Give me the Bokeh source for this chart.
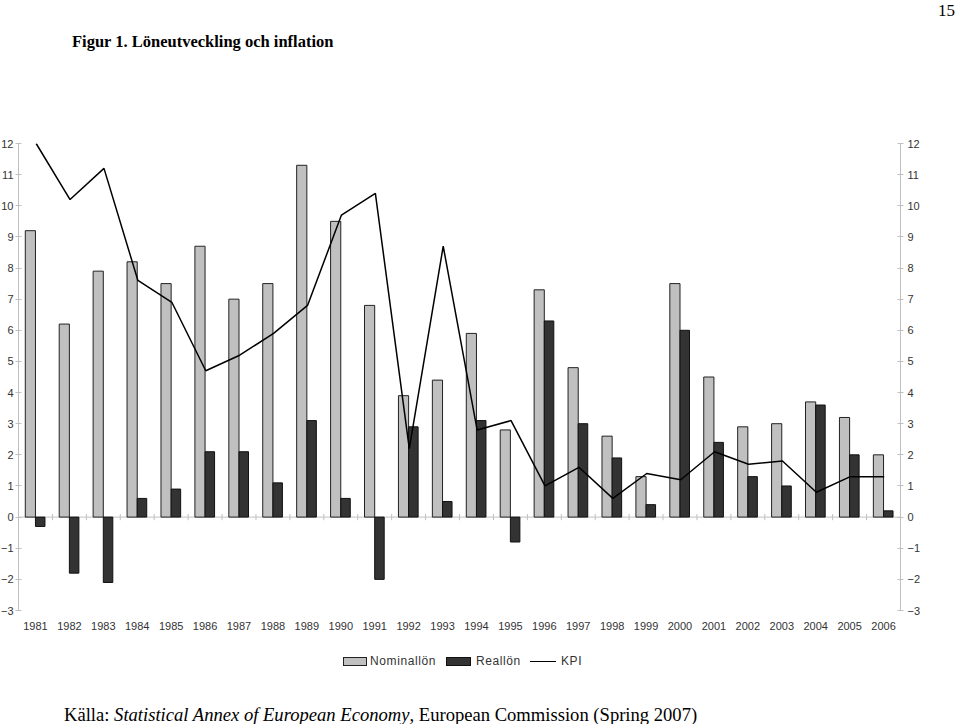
from bokeh.plotting import figure
from bokeh.models import (Range1d, FixedTicker, LinearAxis, Span, Div,
                          ColumnDataSource)
from bokeh.layouts import column
from bokeh.embed import file_html
from bokeh.resources import INLINE
import numpy as np

# ---------------- data ----------------
years = [str(y) for y in range(1981, 2007)]
nominal = [9.2, 6.2, 7.9, 8.2, 7.5, 8.7, 7.0, 7.5, 11.3, 9.5,
           6.8, 3.9, 4.4, 5.9, 2.8, 7.3, 4.8, 2.6, 1.3, 7.5,
           4.5, 2.9, 3.0, 3.7, 3.2, 2.0]
real = [-0.3, -1.8, -2.1, 0.6, 0.9, 2.1, 2.1, 1.1, 3.1, 0.6,
        -2.0, 2.9, 0.5, 3.1, -0.8, 6.3, 3.0, 1.9, 0.4, 6.0,
        2.4, 1.3, 1.0, 3.6, 2.0, 0.2]
kpi = [12.0, 10.2, 11.2, 7.6, 6.9, 4.7, 5.2, 5.9, 6.8, 9.7,
       10.4, 2.2, 8.7, 2.8, 3.1, 1.0, 1.6, 0.6, 1.4, 1.2,
       2.1, 1.7, 1.8, 0.8, 1.3, 1.3]
y_ticks = list(range(-3, 13))
series_names = ["Nominallön", "Reallön", "KPI"]

idx = np.arange(len(years))
centers = idx + 0.5
src = ColumnDataSource(dict(xn=centers - 0.15, xr=centers + 0.14, xc=centers + 0.02,
                            nominal=nominal, real=real, kpi=kpi))

AX_COL = "#c0c0c0"
TXT_COL = "#333333"
FONT = "Liberation Sans"
NOM_FILL = "#c0c0c0"
REAL_FILL = "#333333"

p = figure(frame_width=883, frame_height=467,
           x_range=Range1d(0, len(years)), y_range=Range1d(y_ticks[0], y_ticks[-1]),
           output_backend="svg", toolbar_location=None,
           min_border_top=83, min_border_bottom=30, min_border_right=41,
           min_border_left=10, margin=(0, 0, 0, -3))
p.outline_line_color = None
p.grid.visible = False
p.background_fill_color = "white"
p.border_fill_color = "white"

# zero line with category separators
p.add_layout(Span(location=0, dimension="width", line_color=AX_COL,
                  line_width=1, level="underlay"))
bounds = np.arange(len(years) + 1)
p.segment(x0=bounds, x1=bounds, y0=-0.1, y1=0.1, line_color=AX_COL,
          line_width=1, level="underlay")

p.vbar(x="xn", width=0.3, top="nominal", bottom=0, source=src,
       fill_color=NOM_FILL, line_color="#222222", line_width=1)
p.vbar(x="xr", width=0.28, top="real", bottom=0, source=src,
       fill_color=REAL_FILL, line_color="#111111", line_width=1)
p.line(x="xc", y="kpi", source=src, line_color="black", line_width=1.5)

# x axis (year labels)
xa = p.xaxis[0]
xa.ticker = FixedTicker(ticks=list(centers))
xa.major_label_overrides = {float(c): y for c, y in zip(centers, years)}
xa.axis_line_color = None
xa.major_tick_line_color = None
xa.minor_tick_line_color = None
xa.major_tick_in = 0
xa.major_tick_out = 0
xa.major_label_standoff = 11
xa.major_label_text_font = FONT
xa.major_label_text_font_size = "11px"
xa.major_label_text_color = TXT_COL


def style_y(ax, standoff):
    ax.ticker = FixedTicker(ticks=y_ticks)
    ax.axis_line_color = AX_COL
    ax.major_tick_line_color = AX_COL
    ax.minor_tick_line_color = None
    ax.major_tick_in = 3
    ax.major_tick_out = 3
    ax.major_label_standoff = standoff
    ax.major_label_text_font = FONT
    ax.major_label_text_font_size = "11px"
    ax.major_label_text_color = TXT_COL


style_y(p.yaxis[0], 2)
ra = LinearAxis()
style_y(ra, 4)
p.add_layout(ra, "right")

header = Div(text=(
    '<div style="position:relative;width:944px;height:60px;'
    'font-family:\'Liberation Serif\',serif;color:#000;">'
    '<span style="position:absolute;right:-11px;top:-1px;font-size:17px;">15</span>'
    '<span style="position:absolute;left:72px;top:30px;font-size:16.5px;'
    'font-weight:bold;white-space:nowrap;">Figur 1. Löneutveckling och inflation</span>'
    '</div>'), width=944, height=60, margin=0)

lab = ("position:absolute;top:14px;font-family:'Liberation Sans',sans-serif;"
       "font-size:12px;line-height:14px;letter-spacing:0.6px;color:%s;white-space:nowrap;" % TXT_COL)
legend_html = (
    f'<span style="position:absolute;left:343px;top:17px;width:24px;height:9px;'
    f'box-sizing:border-box;background:{NOM_FILL};border:1px solid #222;"></span>'
    f'<span style="{lab}left:370px;">{series_names[0]}</span>'
    f'<span style="position:absolute;left:446px;top:17px;width:25px;height:9px;'
    f'box-sizing:border-box;background:{REAL_FILL};border:1px solid #111;"></span>'
    f'<span style="{lab}left:476px;">{series_names[1]}</span>'
    f'<span style="position:absolute;left:530px;top:21px;width:26px;height:0;'
    f'border-top:1.5px solid #000;"></span>'
    f'<span style="{lab}left:561px;">{series_names[2]}</span>'
)

footer = Div(text=(
    '<div style="position:relative;width:944px;height:84px;color:#000;">'
    + legend_html +
    '<span style="position:absolute;left:64px;top:62px;font-size:18.6px;white-space:nowrap;'
    'font-family:\'Liberation Serif\',serif;">'
    'Källa: <i>Statistical Annex of European Economy</i>, European Commission (Spring 2007)'
    '</span></div>'), width=944, height=84, margin=0)

page = column(header, p, footer, spacing=0)

with open("out.html", "w") as f:
    f.write(file_html(page, INLINE))
